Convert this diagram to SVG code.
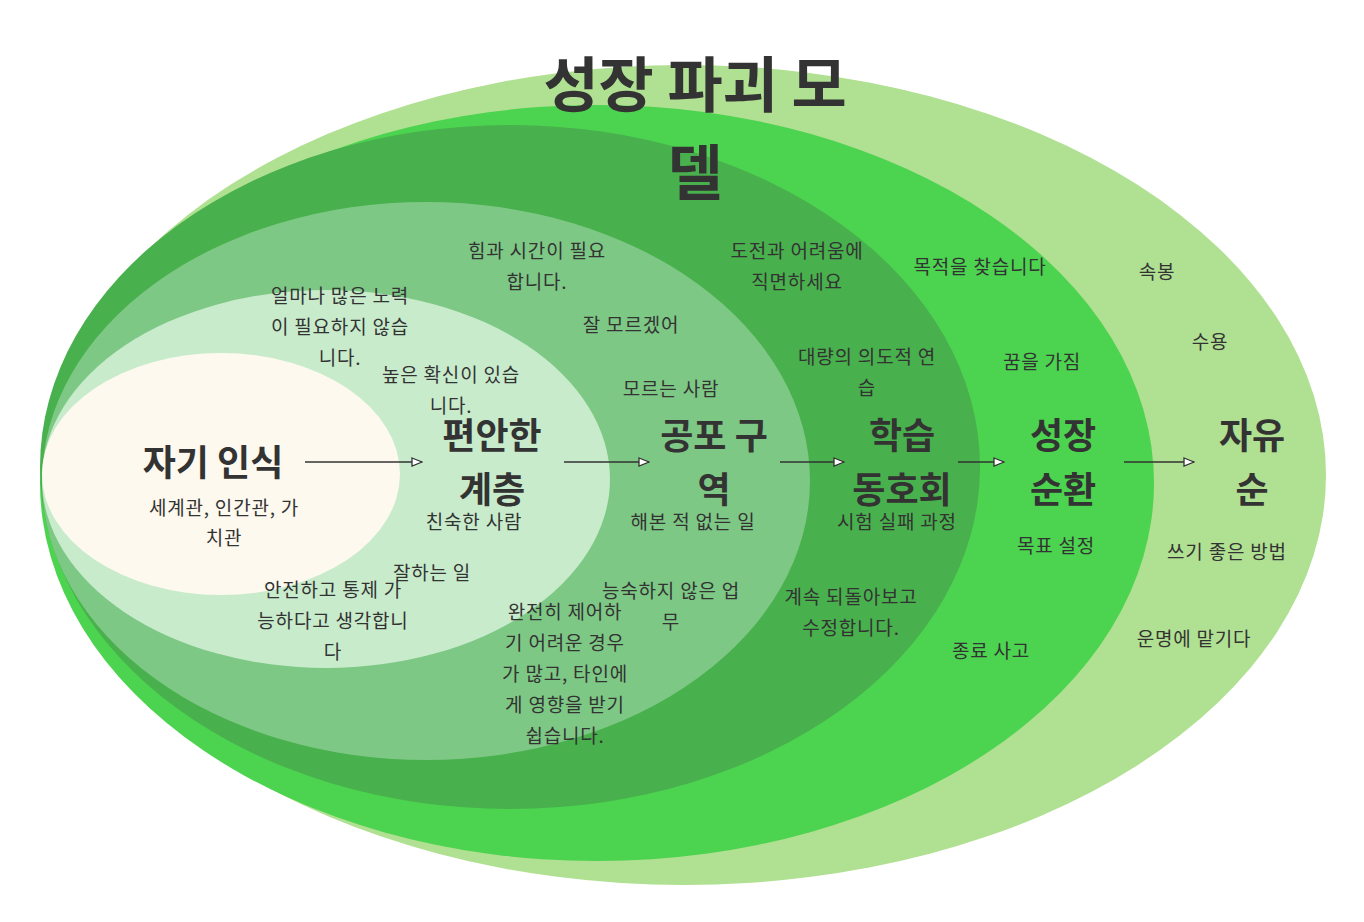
<svg xmlns="http://www.w3.org/2000/svg" width="1364" height="922" viewBox="0 0 1364 922">
<style>
text{font-family:"Noto Sans CJK KR","Noto Sans",sans-serif;fill:#333;text-anchor:middle}
.t{font-size:36px;font-weight:bold}
.s{font-size:19px;letter-spacing:0.8px}
.c{stroke:#333;stroke-width:1.5;fill:none;marker-end:url(#a)}
</style>
<defs><marker id="a" markerWidth="12" markerHeight="10" refX="11" refY="5" orient="auto" markerUnits="userSpaceOnUse"><path d="M1,1 L11,5 L1,9 Z" fill="#fff" stroke="#333" stroke-width="1.3"/></marker></defs>
<rect width="1364" height="922" fill="#fff"/>
<g id="n6"><ellipse cx="684" cy="475" rx="642" ry="410" fill="#b0e091"/></g>
<g id="n5"><ellipse cx="597" cy="483" rx="557" ry="378" fill="#4cd34f"/></g>
<g id="n4"><ellipse cx="510" cy="467" rx="470" ry="342" fill="#48b04c"/></g>
<g id="n3"><ellipse cx="426" cy="481" rx="384" ry="279" fill="#7ec885"/></g>
<g id="n2"><ellipse cx="326" cy="479" rx="284" ry="189" fill="#c8ebcb"/></g>
<g id="n1"><ellipse cx="221" cy="474" rx="179" ry="121" fill="#fdf9ee"/>
<text class="t" x="213" y="476">자기 인식</text>
<text class="s" x="224" y="515">세계관, 인간관, 가</text><text class="s" x="224" y="545">치관</text></g>
<g id="title"><text x="695" y="107" style="font-size:60px;font-weight:bold">성장 파괴 모</text><text x="695" y="195" style="font-size:60px;font-weight:bold">델</text></g>
<g id="l2"><text class="t" x="492" y="449">편안한</text><text class="t" x="492" y="503">계층</text>
<text class="s" x="474" y="529">친숙한 사람</text>
<text class="s" x="340" y="303">얼마나 많은 노력</text><text class="s" x="340" y="334">이 필요하지 않습</text><text class="s" x="340" y="365">니다.</text>
<text class="s" x="451" y="382">높은 확신이 있습</text><text class="s" x="451" y="413">니다.</text>
<text class="s" x="432" y="580">잘하는 일</text>
<text class="s" x="333" y="597">안전하고 통제 가</text><text class="s" x="333" y="628">능하다고 생각합니</text><text class="s" x="333" y="659">다</text></g>
<g id="l3"><text class="t" x="714" y="449">공포 구</text><text class="t" x="714" y="503">역</text>
<text class="s" x="693" y="529">해본 적 없는 일</text>
<text class="s" x="537" y="258">힘과 시간이 필요</text><text class="s" x="537" y="289">합니다.</text>
<text class="s" x="631" y="332">잘 모르겠어</text>
<text class="s" x="671" y="396">모르는 사람</text>
<text class="s" x="671" y="598">능숙하지 않은 업</text><text class="s" x="671" y="629">무</text>
<text class="s" x="565" y="619">완전히 제어하</text><text class="s" x="565" y="650">기 어려운 경우</text><text class="s" x="565" y="681">가 많고, 타인에</text><text class="s" x="565" y="712">게 영향을 받기</text><text class="s" x="565" y="743">쉽습니다.</text></g>
<g id="l4"><text class="t" x="902" y="449">학습</text><text class="t" x="902" y="503">동호회</text>
<text class="s" x="897" y="529">시험 실패 과정</text>
<text class="s" x="797" y="258">도전과 어려움에</text><text class="s" x="797" y="289">직면하세요</text>
<text class="s" x="867" y="364">대량의 의도적 연</text><text class="s" x="867" y="395">습</text>
<text class="s" x="851" y="604">계속 되돌아보고</text><text class="s" x="851" y="635">수정합니다.</text></g>
<g id="l5"><text class="t" x="1063" y="449">성장</text><text class="t" x="1063" y="503">순환</text>
<text class="s" x="980" y="274">목적을 찾습니다</text>
<text class="s" x="1042" y="369">꿈을 가짐</text>
<text class="s" x="1056" y="553">목표 설정</text>
<text class="s" x="991" y="658">종료 사고</text></g>
<g id="l6"><text class="t" x="1252" y="449">자유</text><text class="t" x="1252" y="503">순</text>
<text class="s" x="1157" y="279">속봉</text>
<text class="s" x="1210" y="349">수용</text>
<text class="s" x="1227" y="559">쓰기 좋은 방법</text>
<text class="s" x="1194" y="646">운명에 맡기다</text></g>
<g id="connectors">
<path class="c" d="M305,462 H422"/>
<path class="c" d="M564,462 H649"/>
<path class="c" d="M780,462 H844"/>
<path class="c" d="M958,462 H1004"/>
<path class="c" d="M1124,462 H1194"/>
</g>
</svg>
